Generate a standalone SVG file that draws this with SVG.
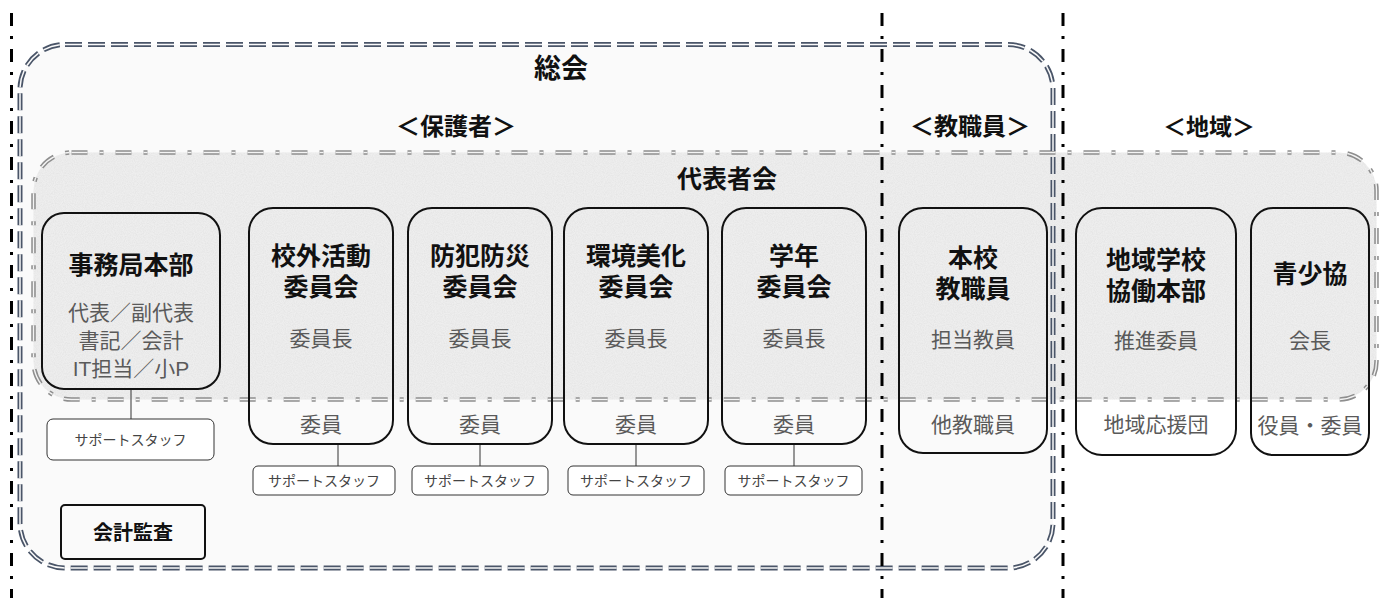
<svg xmlns="http://www.w3.org/2000/svg" width="1381" height="598" viewBox="0 0 1381 598">
<defs>
<style>
.title{font-family:"Liberation Sans","Noto Sans CJK JP",sans-serif;font-weight:bold;fill:#111;text-anchor:middle}
.sub{font-family:"Liberation Sans","Noto Sans CJK JP",sans-serif;fill:#5a5a5a;text-anchor:middle;font-size:21px}
.sup{font-family:"Noto Sans CJK JP","Noto Sans",sans-serif;fill:#444;text-anchor:middle;font-size:14px}
.node{fill:none;stroke:#111;stroke-width:2}
.supbox{fill:#fff;stroke:#333;stroke-width:1}
.link{stroke:#333;stroke-width:1;fill:none}
.div{stroke:#000;stroke-width:3;stroke-dasharray:13 10 3 10;fill:none}
</style>
<filter id="noise" x="0" y="0" width="100%" height="100%">
<feTurbulence type="fractalNoise" baseFrequency="0.9" numOctaves="2" seed="3" result="n"/>
<feColorMatrix in="n" type="matrix" values="0 0 0 0 0.6 0 0 0 0 0.6 0 0 0 0 0.6 0 0 0 0.5 -0.15" result="g"/>
<feComposite in="g" in2="SourceGraphic" operator="in" result="gi"/>
<feMerge><feMergeNode in="SourceGraphic"/><feMergeNode in="gi"/></feMerge>
</filter>
</defs>
<rect width="1381" height="598" fill="#fff"/>

<g id="soukai">
<rect x="20" y="44.5" width="1033" height="523.5" rx="45" fill="#fafafa"/>
</g>

<g id="daihyoushakai">
<rect x="33.5" y="152.5" width="1343" height="247" rx="38" fill="#eeeeee" filter="url(#noise)"/>
<rect x="33.5" y="152.5" width="1343" height="247" rx="38" fill="none" stroke="#8e8e8e" stroke-width="4.5" stroke-dasharray="16 12 4 12"/>
<rect x="33.5" y="152.5" width="1343" height="247" rx="38" fill="none" stroke="#f4f4f4" stroke-width="1.4" stroke-dasharray="16 12 4 12"/>
<text class="title" x="727" y="188" font-size="25">代表者会</text>
</g>

<g id="soukai-border">
<rect x="20" y="44.5" width="1033" height="523.5" rx="45" fill="none" stroke="#4a5568" stroke-width="5" stroke-dasharray="17 6"/>
<rect x="20" y="44.5" width="1033" height="523.5" rx="45" fill="none" stroke="#fafafa" stroke-width="1.5" stroke-dasharray="17 6"/>
<text class="title" x="561" y="78" font-size="27">総会</text>
</g>

<g id="headings">
<text class="title" x="456" y="135" font-size="24">＜保護者＞</text>
<text class="title" x="970" y="135" font-size="24">＜教職員＞</text>
<text class="title" x="1209" y="135" font-size="23">＜地域＞</text>
</g>

<g id="connectors">
<line class="link" x1="131" y1="389" x2="131" y2="419"/>
<line class="link" x1="338" y1="444" x2="338" y2="466"/>
<line class="link" x1="480" y1="444" x2="480" y2="466"/>
<line class="link" x1="636" y1="444" x2="636" y2="466"/>
<line class="link" x1="794" y1="444" x2="794" y2="466"/>
</g>

<g id="jimukyoku">
<rect class="node" x="42" y="213" width="178" height="176" rx="22"/>
<text class="title" x="131" y="274" font-size="25">事務局本部</text>
<text class="sub" x="131" y="320" font-size="22"><tspan x="131">代表／副代表</tspan><tspan x="131" dy="28">書記／会計</tspan><tspan x="131" dy="28">IT担当／小P</tspan></text>
</g>
<g id="jimukyoku-support">
<rect class="supbox" x="47" y="419" width="167" height="41" rx="6"/>
<text class="sup" x="130.5" y="445">サポートスタッフ</text>
</g>

<g id="kougai">
<rect class="node" x="249" y="208" width="144" height="236" rx="24"/>
<text class="title" x="321" y="265" font-size="25"><tspan x="321">校外活動</tspan><tspan x="321" dy="31">委員会</tspan></text>
<text class="sub" x="321" y="346">委員長</text>
<text class="sub" x="321" y="432">委員</text>
</g>
<g id="kougai-support">
<rect class="supbox" x="253" y="466" width="142" height="29" rx="5"/>
<text class="sup" x="324" y="486">サポートスタッフ</text>
</g>

<g id="bouhan">
<rect class="node" x="408" y="208" width="144" height="236" rx="24"/>
<text class="title" x="480" y="265" font-size="25"><tspan x="480">防犯防災</tspan><tspan x="480" dy="31">委員会</tspan></text>
<text class="sub" x="480" y="346">委員長</text>
<text class="sub" x="480" y="432">委員</text>
</g>
<g id="bouhan-support">
<rect class="supbox" x="412" y="466" width="136" height="29" rx="5"/>
<text class="sup" x="480" y="486">サポートスタッフ</text>
</g>

<g id="kankyou">
<rect class="node" x="564" y="208" width="144" height="236" rx="24"/>
<text class="title" x="636" y="265" font-size="25"><tspan x="636">環境美化</tspan><tspan x="636" dy="31">委員会</tspan></text>
<text class="sub" x="636" y="346">委員長</text>
<text class="sub" x="636" y="432">委員</text>
</g>
<g id="kankyou-support">
<rect class="supbox" x="568" y="466" width="136" height="29" rx="5"/>
<text class="sup" x="636" y="486">サポートスタッフ</text>
</g>

<g id="gakunen">
<rect class="node" x="722" y="208" width="144" height="236" rx="24"/>
<text class="title" x="794" y="265" font-size="25"><tspan x="794">学年</tspan><tspan x="794" dy="31">委員会</tspan></text>
<text class="sub" x="794" y="346">委員長</text>
<text class="sub" x="794" y="432">委員</text>
</g>
<g id="gakunen-support">
<rect class="supbox" x="725" y="466" width="137" height="29" rx="5"/>
<text class="sup" x="793.5" y="486">サポートスタッフ</text>
</g>

<g id="honkou">
<rect class="node" x="899" y="208" width="148" height="245" rx="24"/>
<text class="title" x="973" y="267" font-size="25"><tspan x="973">本校</tspan><tspan x="973" dy="31">教職員</tspan></text>
<text class="sub" x="973" y="347">担当教員</text>
<text class="sub" x="973" y="432">他教職員</text>
</g>

<g id="chiiki">
<rect class="node" x="1076" y="208" width="160" height="247" rx="26"/>
<text class="title" x="1156" y="269" font-size="25"><tspan x="1156">地域学校</tspan><tspan x="1156" dy="31">協働本部</tspan></text>
<text class="sub" x="1156" y="348">推進委員</text>
<text class="sub" x="1156" y="432">地域応援団</text>
</g>

<g id="seishoukyou">
<rect class="node" x="1251" y="208" width="118" height="247" rx="22"/>
<text class="title" x="1310" y="283" font-size="25">青少協</text>
<text class="sub" x="1310" y="348">会長</text>
<text class="sub" x="1310" y="433">役員・委員</text>
</g>

<g id="kaikei">
<rect class="node" x="61" y="505" width="144" height="54" rx="4"/>
<text class="title" x="133" y="540" font-size="20">会計監査</text>
</g>

<g id="dividers">
<line class="div" x1="11.5" y1="13" x2="11.5" y2="598"/>
<line class="div" x1="882" y1="13" x2="882" y2="598"/>
<line class="div" x1="1063" y1="13" x2="1063" y2="598"/>
</g>
</svg>
